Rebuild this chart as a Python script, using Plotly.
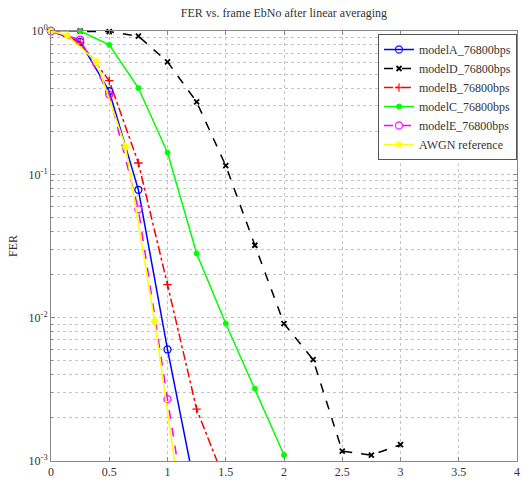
import plotly.graph_objects as go

# ---- data ----
x_A = [0, 0.25, 0.5, 0.75, 1.0, 1.25]
fer_A = [1.0, 0.84, 0.38, 0.078, 0.0060, 0.00057]

x_D = [0, 0.25, 0.5, 0.75, 1.0, 1.25, 1.5, 1.75, 2.0, 2.25, 2.5, 2.75, 3.0]
fer_D = [1.0, 1.0, 0.99, 0.92, 0.61, 0.32, 0.115, 0.032, 0.0091, 0.0051, 0.00117, 0.0011, 0.0013]

x_B = [0, 0.25, 0.5, 0.75, 1.0, 1.25, 1.5]
fer_B = [1.0, 0.83, 0.45, 0.12, 0.017, 0.0023, 0.0007]

x_C = [0, 0.25, 0.5, 0.75, 1.0, 1.25, 1.5, 1.75, 2.0]
fer_C = [1.0, 1.0, 0.80, 0.40, 0.142, 0.028, 0.0091, 0.0032, 0.0011]

x_E = [0, 0.25, 0.5, 0.75, 1.0, 1.25]
fer_E = [1.0, 0.87, 0.36, 0.057, 0.0027, 0.00014]

x_W = [0, 0.14, 0.39, 0.64, 0.89, 1.14]
fer_W = [1.0, 0.93, 0.61, 0.156, 0.0094, 0.00035]

x_ticks = [0, 0.5, 1, 1.5, 2, 2.5, 3, 3.5, 4]
x_ticktext = ["0", "0.5", "1", "1.5", "2", "2.5", "3", "3.5", "4"]
y_ticks = [1, 0.1, 0.01, 0.001]
y_ticktext = ["10<sup>0</sup>", "10<sup>-1</sup>", "10<sup>-2</sup>", "10<sup>-3</sup>"]

series = [
    ("modelA_76800bps", x_A, fer_A, "#0000ff", "solid", "circle-open", 7, 1.3),
    ("modelD_76800bps", x_D, fer_D, "#000000", "dash", "x-thin-open", 5, 1.8),
    ("modelB_76800bps", x_B, fer_B, "#ff0000", "dashdot", "cross-thin-open", 6, 1.3),
    ("modelC_76800bps", x_C, fer_C, "#00ff00", "solid", "circle", 5, 1),
    ("modelE_76800bps", x_E, fer_E, "#ff00ff", "dash", "circle-open", 7, 1.3),
    ("AWGN reference", x_W, fer_W, "#ffff00", "solid", "asterisk-open", 6, 1.8),
]

YMIN = 1e-3
fig = go.Figure()
for name, xs, ys, col, dash, sym, size, mlw in series:
    op = [1 if v >= YMIN else 0 for v in ys]
    fig.add_trace(go.Scatter(
        x=xs, y=ys, name=name, mode="lines+markers",
        line=dict(color=col, width=1.5, dash=dash),
        marker=dict(symbol=sym, size=size, color=col, opacity=op,
                    line=dict(color=col, width=mlw)),
        cliponaxis=False,
    ))

serif = "Liberation Serif, Times New Roman, serif"
txt = "#333333"
fig.update_layout(
    width=531, height=490,
    margin=dict(l=51, r=11, t=31, b=21),
    paper_bgcolor="white", plot_bgcolor="white",
    font=dict(family=serif, size=12, color=txt),
    title=dict(text="FER vs. frame EbNo after linear averaging",
               x=0.5, xref="paper", y=1 - 13 / 490, yanchor="middle",
               font=dict(family=serif, size=12, color=txt)),
    showlegend=True,
    legend=dict(x=1, xanchor="right", y=0.993, yanchor="top",
                bgcolor="white", bordercolor="#555555", borderwidth=1,
                font=dict(family=serif, size=12, color=txt),
                tracegroupgap=0, itemwidth=30),
)
gridc = "#c4c4c4"
fig.update_xaxes(
    range=[0, 4], tickvals=x_ticks, ticktext=x_ticktext,
    showline=True, linecolor="#888888", linewidth=1, mirror="ticks",
    ticks="inside", ticklen=4, tickcolor="#888888",
    showgrid=True, gridcolor=gridc, griddash="dot", gridwidth=1,
    zeroline=False, tickfont=dict(family=serif, size=12, color=txt),
)
fig.update_yaxes(
    type="log", range=[-3, 0], tickvals=y_ticks, ticktext=y_ticktext,
    showline=True, linecolor="#888888", linewidth=1, mirror="ticks",
    ticks="inside", ticklen=4, tickcolor="#888888",
    showgrid=True, gridcolor=gridc, griddash="dot", gridwidth=1,
    minor=dict(tickvals=[m * 10 ** e for e in (-3, -2, -1) for m in range(2, 10)],
               ticks="inside", ticklen=2, tickcolor="#888888",
               showgrid=True, gridcolor=gridc, griddash="dot", gridwidth=1),
    zeroline=False, tickfont=dict(family=serif, size=12, color=txt),
    title=dict(text="FER", font=dict(family=serif, size=12, color=txt), standoff=8),
)

fig.write_html("out.html")
